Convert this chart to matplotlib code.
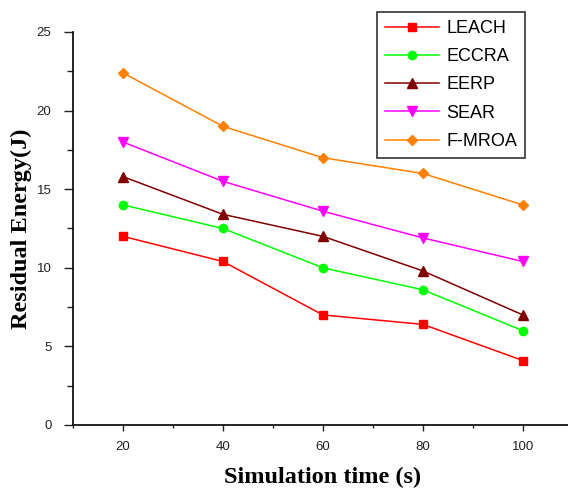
import matplotlib
matplotlib.use("Agg")
import matplotlib.pyplot as plt
from matplotlib.ticker import MultipleLocator

sim_time = [20, 40, 60, 80, 100]
leach = [12.0, 10.4, 7.0, 6.4, 4.1]
eccra = [14.0, 12.5, 10.0, 8.6, 6.0]
eerp = [15.8, 13.4, 12.0, 9.8, 7.0]
sear = [18.0, 15.5, 13.6, 11.9, 10.4]
fmroa = [22.4, 19.0, 17.0, 16.0, 14.0]

series = [
    ("LEACH", leach, "#ff0000", "s", 5.5),
    ("ECCRA", eccra, "#00ff00", "o", 6),
    ("EERP", eerp, "#800000", "^", 7),
    ("SEAR", sear, "#ff00ff", "v", 7),
    ("F-MROA", fmroa, "#ff8000", "D", 5.5),
]

fig = plt.figure(figsize=(5.68, 4.9), dpi=100)
ax = fig.add_axes([0.1285, 0.1327, 0.88, 0.802])

for name, vals, col, mk, ms in series:
    ax.plot(sim_time, vals, color=col, marker=mk, markersize=ms, linewidth=1.1, label=name)

ax.set_xlim(10, 110)
ax.set_ylim(0, 25)
ax.xaxis.set_minor_locator(MultipleLocator(10))
ax.yaxis.set_major_locator(MultipleLocator(5))
ax.yaxis.set_minor_locator(MultipleLocator(2.5))
ax.set_xticks(sim_time)
ax.tick_params(which="both", direction="out", width=1, labelsize=9.5, colors="#222222")
ax.tick_params(axis="y", which="major", length=6.5, pad=9)
ax.tick_params(axis="y", which="minor", length=4.5)
ax.tick_params(axis="x", which="major", length=4.5, pad=7)
ax.tick_params(axis="x", which="minor", length=2.5)
for lab in ax.get_xticklabels() + ax.get_yticklabels():
    lab.set_family("Liberation Sans")

ax.spines["top"].set_visible(False)
ax.spines["right"].set_visible(False)
ax.spines["left"].set_linewidth(1.2)
ax.spines["bottom"].set_linewidth(1.2)

ax.set_xlabel("Simulation time (s)", family="Liberation Serif", fontweight="bold", fontsize=17.5, labelpad=10)
ax.set_ylabel("Residual Energy(J)", family="Liberation Serif", fontweight="bold", fontsize=17.5, labelpad=3)

leg = ax.legend(loc="upper left", bbox_to_anchor=(0.608, 1.051), borderaxespad=0, frameon=True, fancybox=False,
                edgecolor="black", handlelength=3.0, handletextpad=0.4, labelspacing=0.62,
                borderpad=0.45, prop={"family": "Liberation Sans", "size": 13})
leg.get_frame().set_linewidth(1.2)

fig.savefig("out.png", dpi=100)
